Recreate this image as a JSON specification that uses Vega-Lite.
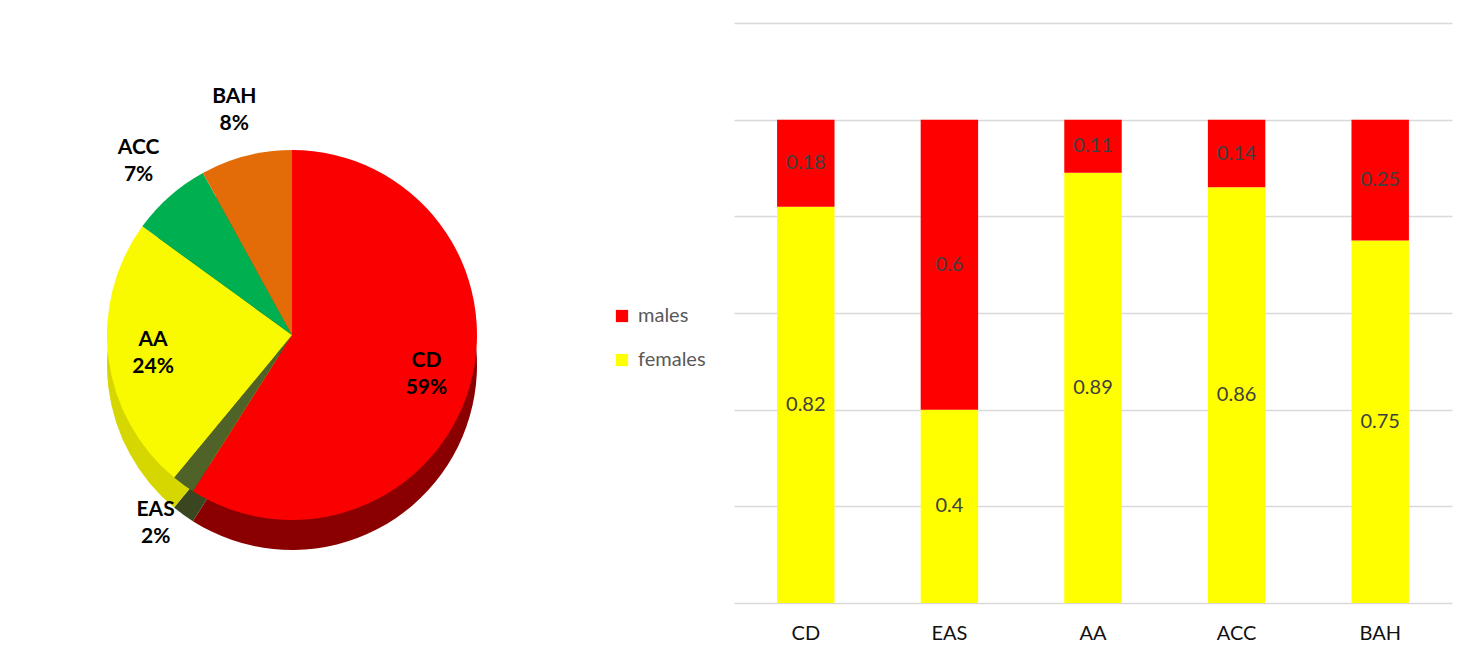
{
  "$schema": "https://vega.github.io/schema/vega-lite/v6.json",
  "padding": {"left": 0, "top": 23, "right": 10, "bottom": 0},
  "background": "white",
  "bounds": "flush",
  "spacing": 150,
  "config": {"view": {"stroke": null}, "font": "Lato"},
  "hconcat": [
    {
      "width": 584,
      "height": 580,
      "data": {"values": [
        {"cat": "CD", "share": 0.59, "order": 1},
        {"cat": "EAS", "share": 0.02, "order": 2},
        {"cat": "AA", "share": 0.24, "order": 3},
        {"cat": "ACC", "share": 0.07, "order": 4},
        {"cat": "BAH", "share": 0.08, "order": 5}
      ]},
      "encoding": {
        "theta": {"field": "share", "type": "quantitative", "stack": true},
        "order": {"field": "order", "type": "quantitative"},
        "detail": {"field": "cat", "type": "nominal"}
      },
      "layer": [
        {
          "mark": {"type": "arc", "outerRadius": 185, "yOffset": 52},
          "encoding": {
            "color": {"field": "cat", "type": "nominal", "legend": null,
              "scale": {"domain": ["CD", "EAS", "AA", "ACC", "BAH"], "range": ["#8a0000", "#3a4620", "#d6d600", "#007a3a", "#a04a05"]}}
          }
        },
        {
          "mark": {"type": "arc", "outerRadius": 185, "yOffset": 22},
          "encoding": {
            "color": {"field": "cat", "type": "nominal", "legend": null,
              "scale": {"domain": ["CD", "EAS", "AA", "ACC", "BAH"], "range": ["#fb0000", "#4f6228", "#f9f900", "#00b050", "#e36c09"]}}
          }
        },
        {
          "mark": {"type": "text", "radius": 140, "yOffset": 22, "dy": -13, "fontSize": 21, "fontWeight": "bold", "color": "black"},
          "encoding": {"text": {"condition": {"test": "datum.share >= 0.2", "field": "cat"}, "value": ""}}
        },
        {
          "mark": {"type": "text", "radius": 140, "yOffset": 22, "dy": 14, "fontSize": 21, "fontWeight": "bold", "color": "black"},
          "encoding": {"text": {"condition": {"test": "datum.share >= 0.2", "field": "share", "format": ".0%"}, "value": ""}}
        },
        {
          "mark": {"type": "text", "radius": 232, "yOffset": 22, "dy": -13, "fontSize": 21, "fontWeight": "bold", "color": "black"},
          "encoding": {"text": {"condition": {"test": "datum.share < 0.2", "field": "cat"}, "value": ""}}
        },
        {
          "mark": {"type": "text", "radius": 232, "yOffset": 22, "dy": 14, "fontSize": 21, "fontWeight": "bold", "color": "black"},
          "encoding": {"text": {"condition": {"test": "datum.share < 0.2", "field": "share", "format": ".0%"}, "value": ""}}
        }
      ],
      "resolve": {"scale": {"color": "independent"}}
    },
    {
      "width": 718,
      "height": 580,
      "data": {"values": [
        {"cat": "CD", "sex": "females", "value": 0.82},
        {"cat": "CD", "sex": "males", "value": 0.18},
        {"cat": "EAS", "sex": "females", "value": 0.4},
        {"cat": "EAS", "sex": "males", "value": 0.6},
        {"cat": "AA", "sex": "females", "value": 0.89},
        {"cat": "AA", "sex": "males", "value": 0.11},
        {"cat": "ACC", "sex": "females", "value": 0.86},
        {"cat": "ACC", "sex": "males", "value": 0.14},
        {"cat": "BAH", "sex": "females", "value": 0.75},
        {"cat": "BAH", "sex": "males", "value": 0.25}
      ]},
      "transform": [
        {"stack": "value", "groupby": ["cat"], "sort": [{"field": "sex", "order": "ascending"}], "as": ["v0", "v1"]},
        {"calculate": "(datum.v0 + datum.v1) / 2", "as": "mid"}
      ],
      "encoding": {
        "x": {"field": "cat", "type": "nominal", "sort": ["CD", "EAS", "AA", "ACC", "BAH"],
          "scale": {"paddingInner": 0.6, "paddingOuter": 0.3},
          "axis": {"title": null, "labelAngle": 0, "domain": false, "ticks": false, "labelFontSize": 20, "labelColor": "#111111", "labelPadding": 20, "labelFont": "Lato"}}
      },
      "layer": [
        {
          "mark": {"type": "bar"},
          "encoding": {
            "y": {"field": "v0", "type": "quantitative", "scale": {"domain": [0, 1.2], "nice": false},
              "axis": {"title": null, "labels": false, "ticks": false, "domain": false, "values": [0, 0.2, 0.4, 0.6, 0.8, 1, 1.2], "gridColor": "#d9d9d9", "gridWidth": 1.5}},
            "y2": {"field": "v1"},
            "color": {"field": "sex", "type": "nominal",
              "scale": {"domain": ["males", "females"], "range": ["#ff0000", "#ffff00"]},
              "legend": {"orient": "none", "legendX": 612, "legendY": 283, "title": null, "padding": 0,
                "labelFontSize": 20, "labelColor": "#595959", "labelFont": "Lato", "symbolType": "square", "symbolSize": 150,
                "symbolStrokeWidth": 0, "symbolOpacity": 1, "rowPadding": 24, "labelOffset": 6}}
          }
        },
        {
          "mark": {"type": "text", "fontSize": 20, "color": "#404040"},
          "encoding": {
            "y": {"field": "mid", "type": "quantitative"},
            "text": {"field": "value", "type": "nominal"}
          }
        }
      ]
    }
  ]
}
